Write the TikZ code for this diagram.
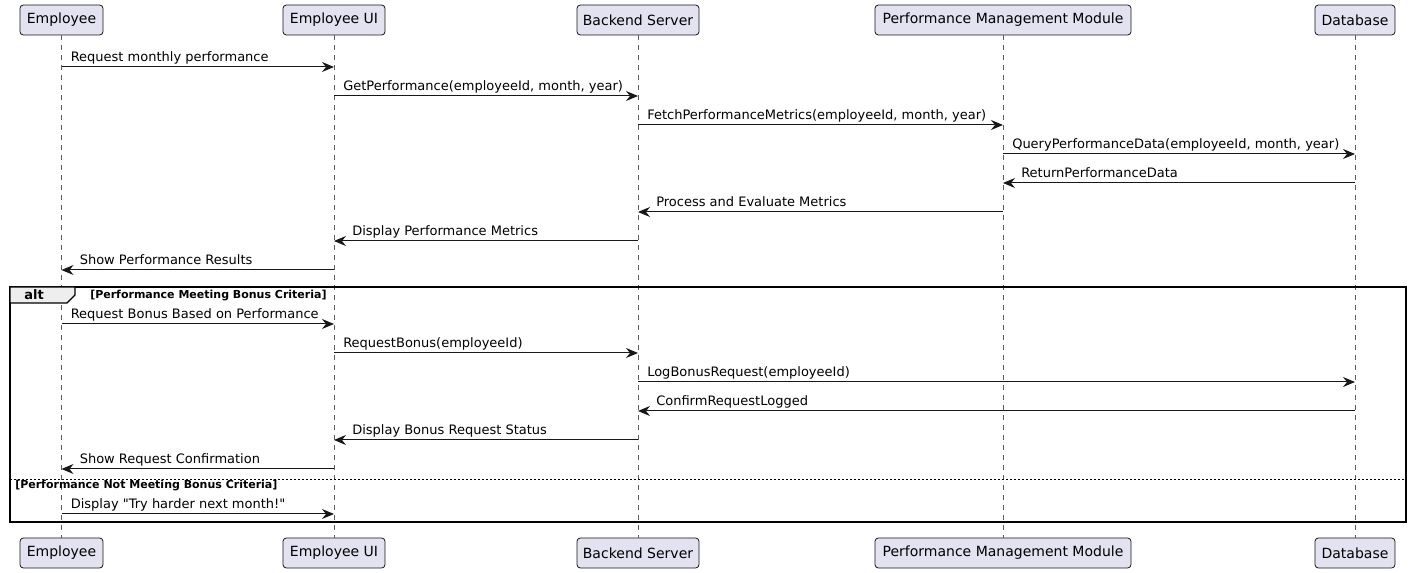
\documentclass[tikz,border=0pt]{standalone}
\usepackage{fontspec}
\setmainfont{DejaVu Sans}
\newfontfamily\rawfont{DejaVu Sans}
\usetikzlibrary{arrows.meta}
\definecolor{pbox}{HTML}{E2E2F0}
\definecolor{pline}{HTML}{181818}
\definecolor{ptab}{HTML}{EEEEEE}
\tikzset{
  part/.style={draw=pline, fill=pbox, rounded corners=2.5pt, line width=0.6pt, minimum height=22.5pt, inner sep=0pt, font=\fontsize{10.5}{12}\selectfont},
  life/.style={draw=pline!70, line width=0.5pt, dash pattern=on 3.75pt off 3.75pt},
  msg/.style={draw=pline, line width=0.75pt, -{Stealth[length=9pt, width=7.5pt, inset=3pt]}},
  mlabel/.style={font=\fontsize{9.75}{11}\selectfont, inner sep=0pt},
  frame/.style={draw=black, line width=1.3pt},
  guard/.style={font=\bfseries\fontsize{8.25}{9}\selectfont, inner sep=0pt},
}
\newcommand{\rmsg}[4]{\draw[msg] (#1T |- y#3) -- (#2T |- y#3); \node[mlabel, anchor=base west] at ([xshift=6.75pt, yshift=3.9pt]#1T |- y#3) {#4};}
\newcommand{\lmsg}[4]{\draw[msg] (#1T |- y#3) -- (#2T |- y#3); \node[mlabel, anchor=base west] at ([xshift=13.5pt, yshift=3.9pt]#2T |- y#3) {#4};}
\begin{document}
\begin{tikzpicture}[x=0.75pt, y=-0.75pt]
\useasboundingbox (0,0) rectangle (1411,573);
% participants top
\node[part, minimum width=62.25pt] (eT) at (61.5,20) {Employee};
\node[part, minimum width=76.5pt] (uT) at (334,20) {Employee UI};
\node[part, minimum width=91.5pt] (bT) at (638,20) {Backend Server};
\node[part, minimum width=192pt] (pT) at (1003,20) {Performance Management Module};
\node[part, minimum width=60pt] (dT) at (1355,20) {Database};
% participants bottom
\node[part, minimum width=62.25pt] (eB) at (61.5,553) {Employee};
\node[part, minimum width=76.5pt] (uB) at (334,553) {Employee UI};
\node[part, minimum width=91.5pt] (bB) at (638,553) {Backend Server};
\node[part, minimum width=192pt] (pB) at (1003,553) {Performance Management Module};
\node[part, minimum width=60pt] (dB) at (1355,553) {Database};
% lifelines
\foreach \n in {e,u,b,p,d} { \draw[life] (\n T.south) -- (\n B.north); }
% message rows
\foreach \i/\yy in {1/67,2/96,3/125,4/154,5/183,6/212,7/241,8/270,9/324,10/353,11/382,12/411,13/440,14/469,15/514} {
  \coordinate (y\i) at (0,\yy);
}
% alt frame
\coordinate (fTL) at (10,287);
\coordinate (fBR) at (1406,522);
\draw[frame] (fTL) rectangle (fBR);
\draw[frame, fill=ptab, line width=1pt] (10,287) -- (75,287) -- (75,295) -- (67,303) -- (10,303) -- cycle;
\node[font=\bfseries\fontsize{9.75}{10}\selectfont, inner sep=0pt] (altlbl) at (34,295) {alt};
\node[guard, anchor=west] (g1) at (90,295.5) {[Performance Meeting Bonus Criteria]};
\draw[draw=black, line width=0.6pt, dash pattern=on 1.5pt off 1.5pt] (10,479.5) -- (1406,479.5);
\node[guard, anchor=west] (g2) at (15,485.5) {[Performance Not Meeting Bonus Criteria]};
% messages
\rmsg{e}{u}{1}{Request monthly performance}
\rmsg{u}{b}{2}{GetPerformance(employeeId, month, year)}
\rmsg{b}{p}{3}{FetchPerformanceMetrics(employeeId, month, year)}
\rmsg{p}{d}{4}{QueryPerformanceData(employeeId, month, year)}
\lmsg{d}{p}{5}{ReturnPerformanceData}
\lmsg{p}{b}{6}{Process and Evaluate Metrics}
\lmsg{b}{u}{7}{Display Performance Metrics}
\lmsg{u}{e}{8}{Show Performance Results}
\rmsg{e}{u}{9}{Request Bonus Based on Performance}
\rmsg{u}{b}{10}{RequestBonus(employeeId)}
\rmsg{b}{d}{11}{LogBonusRequest(employeeId)}
\lmsg{d}{b}{12}{ConfirmRequestLogged}
\lmsg{b}{u}{13}{Display Bonus Request Status}
\lmsg{u}{e}{14}{Show Request Confirmation}
\rmsg{e}{u}{15}{\rawfont Display "Try harder next month!"}
\end{tikzpicture}
\end{document}
